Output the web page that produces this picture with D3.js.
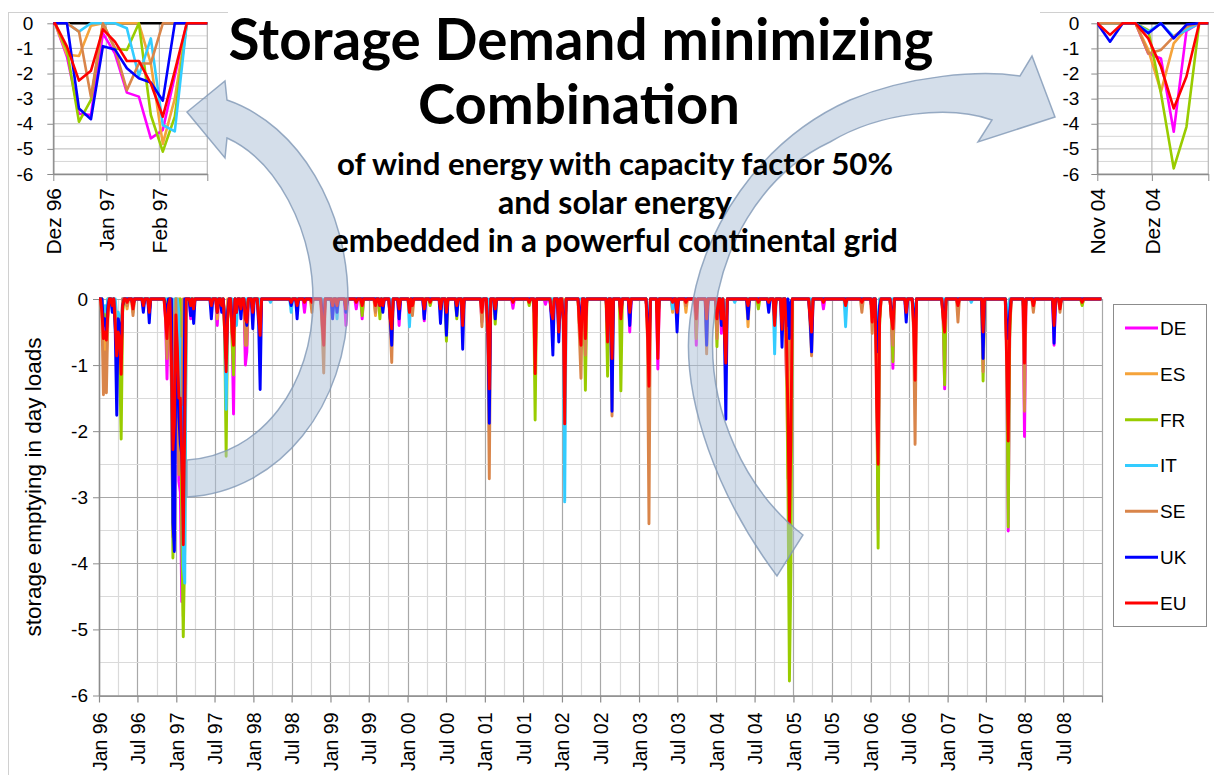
<!DOCTYPE html>
<html><head><meta charset="utf-8">
<script src="https://cdn.jsdelivr.net/npm/d3@7"></script>
<style>
body{margin:0;background:#fff}
svg{display:block}
text{font-family:"Liberation Sans",Arial,sans-serif;fill:#000}
</style>
</head><body>
<svg id="c" width="1214" height="775"></svg>
<script>
// ---------------- DATA ----------------
const countries = ["DE","ES","FR","IT","SE","UK","EU"];
const colors = ["#FF00FF","#F5A33A","#99CC00","#33CCFF","#D9854A","#0000FF","#FF0000"];
const yTickValues = [0,-1,-2,-3,-4,-5,-6];
const yTickLabels = ["0","-1","-2","-3","-4","-5","-6"];
const mainTickLabels = ["Jan 96","Jul 96","Jan 97","Jul 97","Jan 98","Jul 98","Jan 99","Jul 99","Jan 00","Jul 00",
  "Jan 01","Jul 01","Jan 02","Jul 02","Jan 03","Jul 03","Jan 04","Jul 04","Jan 05","Jul 05","Jan 06","Jul 06",
  "Jan 07","Jul 07","Jan 08","Jul 08",""];
const inset1Labels = ["Dez 96","Jan 97","Feb 97",""];
const inset2Labels = ["Nov 04","Dez 04",""];
const titleLines = ["Storage Demand minimizing","Combination"];
const subtitleLines = ["of wind energy with capacity factor 50%","and solar energy","embedded in a powerful continental grid"];
const yAxisTitle = "storage emptying in day loads";

// weekly values (Mondays); weeks not listed are 0
const eventDates = [
 "1996-01-15","1996-01-22","1996-01-29","1996-02-05","1996-02-12","1996-03-04","1996-03-18","1996-03-25","1996-04-01","1996-04-08","1996-04-15","1996-04-22","1996-05-13","1996-06-10","1996-07-29","1996-08-26","1996-11-11","1996-11-18","1996-11-25",
 "1996-12-09","1996-12-16","1996-12-23","1996-12-30","1997-01-06","1997-01-13","1997-01-20","1997-01-27","1997-02-03","1997-02-10",
 "1997-03-10","1997-03-24","1997-06-16","1997-07-14","1997-08-04","1997-08-18","1997-08-25","1997-09-01","1997-09-22","1997-09-29","1997-10-13","1997-11-03","1997-11-24","1997-12-01","1997-12-29",
 "1998-01-26","1998-02-02","1998-03-23","1998-06-29","1998-07-27","1998-08-31","1998-10-05","1998-11-23","1998-11-30",
 "1999-01-11","1999-02-01","1999-03-15","1999-05-03","1999-05-31","1999-08-02","1999-08-23","1999-09-06","1999-10-11","1999-10-18","1999-11-22",
 "2000-01-10","2000-01-24","2000-03-20","2000-04-17","2000-06-05","2000-07-03","2000-08-21","2000-09-18","2000-12-18",
 "2001-01-15","2001-01-22","2001-02-19","2001-05-14","2001-07-30","2001-08-27","2001-10-15","2001-11-12","2001-11-19","2001-12-17",
 "2002-01-07","2002-01-14","2002-03-25","2002-04-01","2002-04-22","2002-08-05","2002-08-26","2002-10-07","2002-11-18",
 "2003-02-10","2003-02-17","2003-03-31","2003-06-09","2003-06-30","2003-08-11","2003-09-29","2003-11-17",
 "2004-01-05","2004-01-26","2004-02-09","2004-02-16","2004-03-29","2004-05-31","2004-07-19","2004-09-06","2004-10-04","2004-11-08","2004-11-29","2004-12-06","2004-12-13","2004-12-20",
 "2005-03-21","2005-03-28","2005-05-23","2005-09-05","2005-11-21",
 "2006-01-09","2006-01-30","2006-02-06","2006-02-13","2006-04-10","2006-04-17","2006-06-19","2006-07-24","2006-07-31","2006-12-11","2006-12-18",
 "2007-02-19","2007-04-23","2007-06-18","2007-10-08","2007-10-15","2007-10-22","2007-12-31",
 "2008-02-11","2008-05-19","2008-06-16","2008-09-29"
];
const DE = [
 0,-0.5,-0.4,-0.6,-0.1,0,-0.2,-0.6,-0.3,-0.4,-0.8,0,0,-0.1,0,-0.1,-0.3,-1.21,-0.2,
 -1.33,-3.6,-3.65,-0.4,-1.2,-2.76,-2.92,-4.58,-4.25,-2.1,
 -0.3,-0.1,0,-0.4,0,-0.3,-1.0,-0.2,-0.5,-1.74,-0.2,-0.1,-1.0,-0.8,-0.1,
 -0.2,-0.3,0,0,0,-0.2,0,-0.3,-0.6,
 0,0,-0.4,-0.15,-0.3,0,0,0,-0.3,-0.5,-0.4,
 -0.2,0,-0.33,0,0,-0.2,0,-0.2,-0.35,
 -0.3,-0.8,0,-0.14,0,-0.4,-0.08,-0.2,-0.3,-0.3,
 -0.2,-0.5,-0.2,-0.3,-0.3,-0.3,-0.4,-0.3,-0.5,
 -0.3,-0.6,-1.06,0,0,0,-0.7,-0.3,
 -0.3,-0.52,-0.3,-0.5,0,-0.1,0,0,-0.2,0,-1.2,-1.4,-4.32,-0.3,
 -0.2,-0.3,-0.15,0,0,
 -0.2,-1.0,-3.49,-0.3,-0.3,-1.05,0,-0.3,-0.8,-0.3,-1.36,
 -0.1,0,-0.5,-0.8,-3.51,-0.5,-2.08,
 -0.1,-0.7,-0.1,0
];
const ES = [
 0,-0.8,-0.6,-0.9,-0.2,0,-0.1,-0.4,-0.3,-0.5,-0.6,0,-0.15,-0.2,0,0,0,-0.3,0,
 -1.25,-1.3,-0.1,0,0,0,0,-1.6,-4.8,-3.0,
 0,0,0,-0.3,0,-0.2,-0.6,0,-0.3,-0.6,0,0,-0.3,-0.3,0,
 0,-0.1,0,0,0,0,-0.1,-0.2,-0.5,
 0,0,0,0,0,-0.25,0,0,-0.2,-0.3,0,
 0,0,0,0,0,0,0,0,-0.1,
 -0.2,-0.5,0,0,0,-0.3,0,0,-0.1,-0.2,
 0,-0.3,-0.3,-0.4,-0.3,-0.3,-0.3,-0.2,0,
 -0.2,-0.5,-0.3,-0.2,0,-0.2,-0.2,-0.2,
 -0.2,0,-0.2,-0.3,0,-0.42,0,0,0,0,-1.06,-2.72,-0.8,-0.2,
 0,-0.2,0,0,0,
 -0.1,-0.5,-1.0,0,-0.2,-0.3,0,-0.2,-0.5,-0.2,-0.3,
 0,0,-0.2,-0.3,-0.8,0,-0.5,
 0,-0.1,0,-0.08
];
const FR = [
 0,-0.3,-0.2,-0.3,0,-0.1,-0.3,-0.7,-0.6,-1.0,-2.12,-0.2,0,-0.1,0,0,0,-0.3,0,
 -1.06,-3.92,-3.05,0,-1.0,-1.06,0,-3.65,-5.11,-3.72,
 0,0,0,0,0,-0.5,-2.38,-0.3,-0.6,-1.15,-0.1,0,-0.2,-0.1,0,
 0,-0.1,0,0,0,0,0,-0.2,-0.4,
 0,0,0,0,-0.25,0,-0.3,0,-0.1,-0.3,0,
 -0.1,0,0,-0.1,0,-0.64,-0.3,-0.2,0,
 -0.2,-0.6,-0.38,0,-0.1,-1.83,0,0,-0.2,-0.2,
 -0.2,-0.5,-0.4,-0.5,-1.38,-1.17,-0.5,-1.39,0,
 -0.3,-0.6,-0.3,0,0,0,-0.3,-0.2,
 -0.72,0,-0.3,-0.4,0,0,-0.15,0,-0.2,0,-0.27,-2.8,-5.78,-4.12,
 -0.1,-0.2,0,0,0,
 -0.1,-1.2,-3.77,-0.4,-0.3,-0.95,0,-0.2,-0.6,-0.3,-1.3,
 0,0,-1.24,-0.8,-3.45,-0.6,-0.6,
 0,-0.1,0,-0.1
];
const IT = [
 0,-0.2,-0.1,-0.2,0,0,0,-0.3,-0.2,-0.3,-0.5,0,0,0,0,0,0,0,0,
 0,-0.33,0,0,0,-0.2,-2.1,-0.6,-4.05,-4.3,
 0,0,0,0,0,-0.4,-1.67,-0.2,0,-0.3,-0.4,-0.1,0,0,0,
 0,-0.1,-0.05,-0.2,0,0,0,0,-0.2,
 -0.25,-0.3,0,0,0,0,0,0,0,-0.1,0,
 -0.42,0,-0.25,0,0,-0.1,0,0,0,
 0,-0.3,0,0,0,-0.2,0,0,0,0,
 -0.3,-3.07,0,0,0,0,0,0,0,
 -0.2,-0.3,0,-0.15,0,0,0,0,
 0,0,-0.1,-0.2,-0.05,0,0,0,-0.83,0,-0.33,0,-0.53,-0.27,
 0,0,0,-0.42,0,
 0,-0.3,-0.6,0,0,0,0,-0.1,-0.2,0,0,
 0,-0.05,0,-0.1,-0.3,0,-0.2,
 0,0,0,0
];
const SE = [
 -0.3,-1.45,-0.8,-1.42,-0.3,0,-0.2,-0.5,-0.3,-0.4,-0.7,0,-0.1,-0.25,-0.1,-0.2,-0.2,-0.9,-0.1,
 0,-0.33,-2.92,0,-1.0,-2.66,-1.6,-1.6,0,0,
 -0.1,0,-0.1,-0.2,0,-0.3,-0.8,-0.1,-0.3,-0.6,-0.1,-0.1,-0.7,-0.7,-0.2,
 -0.2,-0.4,0,-0.05,-0.1,0,-0.2,-0.5,-1.12,
 0,0,-0.1,0,0,-0.2,0,0,-0.4,-0.96,-0.1,
 -0.2,-0.25,0,0,0,-0.2,0,-0.2,-0.42,
 -0.6,-2.72,0,0,0,-0.3,0,-0.1,-0.2,-0.3,
 -0.2,-0.5,-0.6,-1.2,-0.85,-0.6,-1.77,-0.2,-0.2,
 -0.6,-3.4,-0.4,0,0,-0.1,-0.6,-0.83,
 -0.6,-0.2,-0.3,-0.5,0,-0.1,0,0,-0.2,0,-1.2,-1.06,-0.53,-0.13,
 -0.4,-0.86,0,0,-0.2,
 -0.52,-0.8,-1.5,-0.2,-0.3,-0.7,-0.1,-0.5,-2.2,-0.2,-0.5,
 -0.35,0,-1.1,-0.5,-1.0,-0.3,-1.7,
 -0.2,-0.3,-0.2,0
];
const UK = [
 0,-0.4,-0.3,-0.5,-0.1,-0.2,-0.5,-1.76,-0.3,-0.4,-0.8,-0.1,0,-0.1,-0.2,-0.36,-0.1,-0.3,0,
 0,-3.39,-3.82,-0.91,-1.04,-1.79,-2.19,-2.36,-3.08,0,
 -0.25,-0.37,-0.3,-0.2,-0.2,-0.3,-0.9,-0.2,-0.3,-0.5,-0.2,-0.3,-0.2,-0.4,-0.45,
 -0.4,-1.37,0,-0.1,-0.3,0,0,-0.2,-0.4,
 -0.3,-0.2,-0.2,0,0,0,-0.1,-0.2,-0.3,-0.7,-0.3,
 -0.1,0,-0.3,0,-0.37,-0.55,-0.25,-0.76,-0.1,
 -0.4,-1.88,-0.3,0,0,-0.4,0,-0.3,-0.85,-0.65,
 -0.3,-0.6,-0.2,-0.3,-0.3,-0.4,-1.7,-0.2,-0.4,
 -0.3,-0.8,-0.3,0,-0.5,0,-0.2,-0.7,
 -0.2,-0.4,-0.5,-1.82,0,-0.3,0,-0.2,-0.3,-0.73,-0.4,0,-0.6,-0.05,
 -0.3,-0.8,0,0,0,
 -0.2,-0.5,-0.8,-0.1,-0.2,-0.3,-0.35,-0.2,-0.5,-0.2,-0.3,
 0,0,-0.9,-0.4,-0.6,-0.2,-0.4,
 0,-0.67,-0.1,0
];
const EU = [
 -0.2,-0.6,-0.5,-0.62,-0.2,-0.1,-0.4,-0.86,-0.5,-0.6,-1.14,-0.1,-0.05,-0.15,-0.1,-0.2,-0.3,-0.6,-0.1,
 -0.93,-2.28,-1.89,-0.24,-0.73,-1.5,-1.5,-2.4,-3.72,-1.9,
 -0.1,-0.15,-0.1,-0.2,-0.1,-0.5,-1.1,-0.3,-0.5,-0.7,-0.2,-0.15,-0.3,-0.35,-0.2,
 -0.3,-0.55,0,-0.05,-0.1,-0.05,-0.05,-0.4,-0.7,
 -0.1,-0.1,-0.15,-0.05,-0.1,-0.1,-0.1,-0.1,-0.3,-0.45,-0.15,
 -0.2,-0.1,-0.15,-0.05,-0.15,-0.2,-0.1,-0.4,-0.2,
 -0.5,-1.36,-0.15,-0.05,-0.05,-1.13,0,-0.2,-0.3,-0.5,
 -0.3,-1.89,-0.4,-0.7,-0.6,-0.65,-0.9,-0.3,-0.2,
 -0.5,-1.32,-0.9,-0.05,-0.2,-0.05,-0.3,-0.3,
 -0.3,-0.3,-0.5,-0.97,0,-0.1,-0.05,-0.05,-0.4,-0.46,-0.6,-1.73,-3.39,-2.12,
 -0.3,-0.5,-0.05,-0.1,-0.05,
 -0.35,-1.6,-2.5,-0.3,-0.3,-0.45,-0.2,-0.4,-1.23,-0.3,-0.5,
 -0.1,0,-0.5,-1.0,-2.15,-0.4,-0.97,
 -0.1,-0.4,-0.15,-0.05
];

// ---------------- BUILD ----------------
const seriesArrays = [DE,ES,FR,IT,SE,UK,EU];
const parse = d3.timeParse("%Y-%m-%d");
const weeks = d3.timeMonday.range(new Date(1996,0,1), new Date(2009,0,1));
const evIndex = new Map();
eventDates.forEach((s,i)=>evIndex.set(+d3.timeMonday.floor(parse(s)), i));
const series = countries.map((c,ci)=>({
  name:c, color:colors[ci],
  values: weeks.map(w=>{const i=evIndex.get(+w); return {date:w, value: i===undefined?0:seriesArrays[ci][i]};})
}));

const svg = d3.select("#c");
const bad = seriesArrays.map((a,i)=>a.length!==eventDates.length?countries[i]+":"+a.length:null).filter(d=>d);
if (bad.length) svg.append("text").attr("x",400).attr("y",760).text("LEN MISMATCH "+eventDates.length+" "+bad.join(" "));

// frame lines
svg.append("line").attr("x1",8.5).attr("x2",8.5).attr("y1",12).attr("y2",775).attr("stroke","#d0d0d0");
svg.append("line").attr("x1",8).attr("x2",228).attr("y1",12.5).attr("y2",12.5).attr("stroke","#d0d0d0");
svg.append("line").attr("x1",1040).attr("x2",1214).attr("y1",12.5).attr("y2",12.5).attr("stroke","#d0d0d0");

// ---------------- MAIN CHART ----------------
const x = d3.scaleTime().domain([new Date(1996,0,1), new Date(2009,0,1)]).range([99,1102]);
const y = d3.scaleLinear().domain([0,-6]).range([299,695.5]);
const g = svg.append("g");
const quarters = d3.timeMonth.every(3).range(new Date(1996,0,1), new Date(2009,0,2));
g.selectAll(".vq").data(quarters).join("line")
  .attr("x1",d=>Math.round(x(d))+0.5).attr("x2",d=>Math.round(x(d))+0.5).attr("y1",y(0)).attr("y2",y(-6))
  .attr("stroke",d=>d.getMonth()%6===0?"#a8a8a8":"#dadada").attr("stroke-width",1.2);
const halfSteps = d3.range(0,-6.01,-0.5);
g.selectAll(".hq").data(halfSteps).join("line")
  .attr("x1",x.range()[0]).attr("x2",x.range()[1]).attr("y1",d=>Math.round(y(d))+0.5).attr("y2",d=>Math.round(y(d))+0.5)
  .attr("stroke",d=>Number.isInteger(d)?"#a8a8a8":"#dadada").attr("stroke-width",1.2);

const halfYears = d3.timeMonth.every(6).range(new Date(1996,0,1), new Date(2009,0,2));
const xAxis = g.append("g").attr("transform",`translate(0,${y(-6)})`)
  .call(d3.axisBottom(x).tickValues(halfYears).tickFormat((d,i)=>mainTickLabels[i]||"").tickSize(7).tickSizeOuter(0));
xAxis.select(".domain").attr("stroke","#8c8c8c").attr("stroke-width",1.5);
xAxis.selectAll(".tick line").attr("stroke","#8c8c8c").attr("stroke-width",1.2);
xAxis.selectAll("text").attr("transform","rotate(-90)").attr("text-anchor","end")
  .attr("x",-17).attr("y",0).attr("dy","0.36em").style("font-size","19.5px");

const yAxis = g.append("g").attr("transform",`translate(${x.range()[0]},0)`)
  .call(d3.axisLeft(y).tickValues(yTickValues).tickFormat((d,i)=>yTickLabels[i]).tickSize(6).tickPadding(5).tickSizeOuter(0));
yAxis.select(".domain").attr("stroke","#8c8c8c").attr("stroke-width",1.5);
yAxis.selectAll(".tick line").attr("stroke","#8c8c8c");
yAxis.selectAll("text").style("font-size","19px");

g.append("text").attr("transform",`translate(33,487) rotate(-90)`).attr("text-anchor","middle")
  .attr("dy","0.35em").style("font-size","22.5px").text(yAxisTitle);

svg.append("clipPath").attr("id","clipMain").append("rect").attr("x",99).attr("y",292).attr("width",1003).attr("height",406);
const line = d3.line().x(d=>x(d.date)).y(d=>y(d.value));
g.append("g").attr("clip-path","url(#clipMain)").selectAll("path").data(series).join("path")
  .attr("d",d=>line(d.values)).attr("fill","none").attr("stroke",d=>d.color)
  .attr("stroke-width",2.9).attr("stroke-linejoin","round");

// legend
const lg = svg.append("g");
lg.append("rect").attr("x",1113.5).attr("y",304.5).attr("width",93).attr("height",322).attr("fill","#fff").attr("stroke","#8c8c8c");
const legendY = d3.scalePoint().domain(countries).range([328,603]);
countries.forEach((c,i)=>{
  lg.append("line").attr("x1",1125).attr("x2",1158).attr("y1",legendY(c)).attr("y2",legendY(c)).attr("stroke",colors[i]).attr("stroke-width",3);
  lg.append("text").attr("x",1160).attr("y",legendY(c)).attr("dy","0.36em").style("font-size","19px").text(c);
});

// ---------------- INSETS ----------------
function inset(cfg){
  const ig = svg.append("g");
  const ix = d3.scaleTime().domain(cfg.domain).range(cfg.xr);
  const iy = d3.scaleLinear().domain([0,-6]).range([23.3,174]);
  ig.selectAll(".h").data(halfSteps).join("line")
    .attr("x1",cfg.xr[0]).attr("x2",cfg.xr[1]).attr("y1",d=>iy(d)).attr("y2",d=>iy(d))
    .attr("stroke",d=>Number.isInteger(d)?"#b8b8b8":"#d6d6d6").attr("stroke-width",1);
  ig.selectAll(".v").data(cfg.months).join("line")
    .attr("x1",d=>ix(d)).attr("x2",d=>ix(d)).attr("y1",iy(0)).attr("y2",iy(-6))
    .attr("stroke","#b8b8b8").attr("stroke-width",1.2);
  const ax = ig.append("g").attr("transform",`translate(0,${iy(-6)})`)
    .call(d3.axisBottom(ix).tickValues(cfg.months).tickFormat((d,i)=>cfg.labels[i]||"").tickSize(7).tickSizeOuter(0));
  ax.select(".domain").attr("stroke","#8c8c8c").attr("stroke-width",1.4);
  ax.selectAll(".tick line").attr("stroke","#8c8c8c");
  ax.selectAll("text").attr("transform","rotate(-90)").attr("text-anchor","end")
    .attr("x",-14).attr("y",0).attr("dy","0.36em").style("font-size","21px");
  const ay = ig.append("g").attr("transform",`translate(${cfg.xr[0]},0)`)
    .call(d3.axisLeft(iy).tickValues(yTickValues).tickFormat((d,i)=>cfg.showY?yTickLabels[i]:"").tickSize(6).tickPadding(cfg.pad).tickSizeOuter(0));
  ay.select(".domain").attr("stroke","#8c8c8c").attr("stroke-width",1.4);
  ay.selectAll(".tick line").attr("stroke","#8c8c8c");
  ay.selectAll("text").style("font-size","19px");
  svg.append("clipPath").attr("id",cfg.id).append("rect").attr("x",cfg.xr[0]).attr("y",18).attr("width",cfg.xr[1]-cfg.xr[0]).attr("height",160);
  const pg = ig.append("g").attr("clip-path",`url(#${cfg.id})`);
  pg.append("line").attr("x1",cfg.xr[0]).attr("x2",cfg.xr[1]).attr("y1",iy(0)).attr("y2",iy(0)).attr("stroke","#000").attr("stroke-width",2.5);
  const lo = d3.timeDay.offset(cfg.domain[0],-8), hi = d3.timeDay.offset(cfg.domain[1],8);
  const il = d3.line().x(d=>ix(d.date)).y(d=>iy(d.value));
  pg.selectAll("path.s").data(series).join("path").attr("class","s")
    .attr("d",d=>il(d.values.filter(v=>v.date>=lo&&v.date<=hi))).attr("fill","none")
    .attr("stroke",d=>d.color).attr("stroke-width",2.6).attr("stroke-linejoin","round");
}
inset({id:"ci1", domain:[new Date(1996,11,1), new Date(1997,2,1)], xr:[53.3,207.3],
  months:d3.timeMonth.range(new Date(1996,11,1), new Date(1997,2,2)), labels:inset1Labels, showY:true, pad:14});
inset({id:"ci2", domain:[new Date(2004,10,1), new Date(2005,0,1)], xr:[1097.3,1208.3],
  months:d3.timeMonth.range(new Date(2004,10,1), new Date(2005,0,2)), labels:inset2Labels, showY:true, pad:12});

// ---------------- ARROWS ----------------
const arrowFill = "#a9bdd6", arrowStroke = "#7f97b5";
svg.append("path")
  .attr("d","M187,460 C262,455 313,385 313,300 C313,228 276,160 227,138 L225,158 L187,112 L225,81 L227,100 C300,125 348,210 348,300 C348,405 280,492 187,497 Z")
  .attr("fill",arrowFill).attr("fill-opacity",0.5).attr("stroke",arrowStroke).attr("stroke-opacity",0.8).attr("stroke-width",1.5);
svg.append("path")
  .attr("d","M777,576 C720,500 680,400 690,320 C700,230 760,140 850,100 C910,75 980,70 1020,76 L1032,56 L1055,117 L978,142 L992,120 C950,105 880,112 830,142 C760,175 718,250 713,330 C708,410 745,490 803,535 Z")
  .attr("fill",arrowFill).attr("fill-opacity",0.5).attr("stroke",arrowStroke).attr("stroke-opacity",0.8).attr("stroke-width",1.5);

// ---------------- TITLE ----------------
function fitText(txt, cx, base, width, weight){
  const t = svg.append("text").attr("x",cx).attr("y",base).attr("text-anchor","middle")
    .style("font-family","Lato, 'Open Sans', sans-serif").style("font-weight",weight).style("font-size","100px").text(txt);
  const w = t.node().getComputedTextLength();
  t.style("font-size",(100*width/w).toFixed(2)+"px");
  return t;
}
fitText(titleLines[0], 581, 60, 705, 700);
fitText(titleLines[1], 579, 124, 322, 700);
fitText(subtitleLines[0], 615, 175, 556, 700);
fitText(subtitleLines[1], 615, 214, 234, 700);
fitText(subtitleLines[2], 615, 252, 566, 700);
</script>
</body></html>
